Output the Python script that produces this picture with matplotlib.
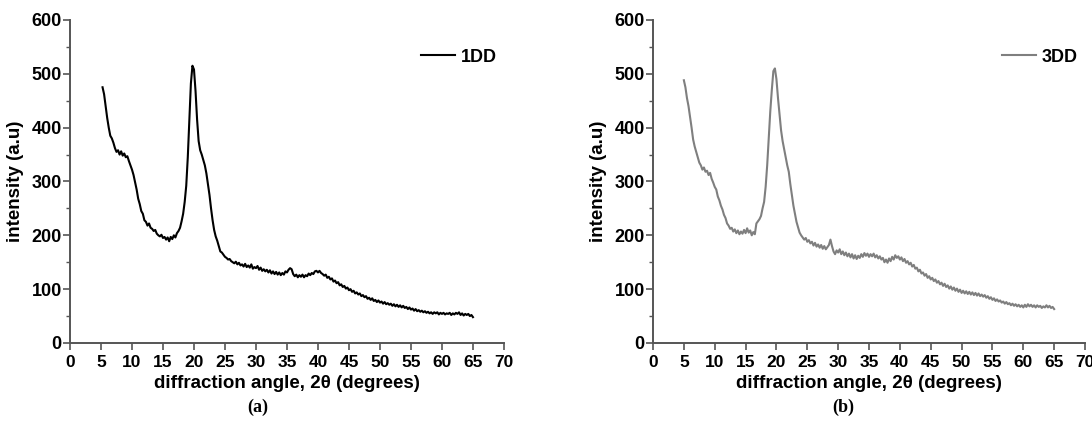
import numpy as np
import matplotlib

matplotlib.use("Agg")
import matplotlib.pyplot as plt
from matplotlib.ticker import MultipleLocator

plt.rcParams["font.family"] = ["Liberation Sans", "DejaVu Sans"]
plt.rcParams["font.weight"] = "bold"

# XRD scans, 0.25 degree steps
START_1DD = 5.25
INTENSITY_1DD = [
    475, 462, 440, 418, 400, 385, 380, 372, 362, 355, 358, 350, 356, 348, 352, 345, 347, 338, 330,
    322, 312, 298, 285, 268, 258, 245, 240, 228, 225, 218, 222, 214, 212, 208, 210, 203, 200, 198, 201,
    195, 197, 192, 196, 189, 197, 193, 200, 196, 204, 208, 214, 226, 240, 262, 292, 345, 415, 482, 515,
    508, 468, 415, 375, 358, 350, 340, 330, 315, 295, 275, 250, 228, 210, 198, 190, 180, 170, 168, 164,
    160, 158, 155, 156, 152, 150, 148, 151, 146, 149, 144, 146, 142, 147, 141, 144, 140, 146, 138, 141,
    139, 143, 136, 140, 134, 137, 133, 136, 131, 135, 129, 133, 128, 132, 127, 131, 126, 130, 127, 133,
    131, 136, 139, 137, 128, 124, 127, 122, 126, 123, 127, 122, 126, 124, 129, 126, 130, 128, 133, 134,
    131, 134, 130, 128, 125, 127, 121, 123, 118, 120, 114, 116, 111, 113, 107, 109, 104, 106, 101, 103,
    98, 100, 95, 97, 92, 94, 90, 92, 87, 89, 85, 87, 82, 84, 80, 83, 78, 80, 76, 79,
    75, 77, 73, 76, 72, 74, 71, 73, 69, 72, 68, 71, 67, 70, 66, 69, 65, 67, 63, 66,
    62, 64, 60, 63, 59, 61, 58, 60, 57, 59, 56, 58, 55, 57, 54, 57, 55, 57, 53, 56,
    54, 56, 53, 55, 54, 56, 52, 55, 53, 56, 54, 57, 52, 55, 51, 54, 52, 54, 50, 52,
    48,
]

START_3DD = 5.0
INTENSITY_3DD = [
    488, 475, 455, 440, 420, 400, 378, 365, 355, 345, 335, 330, 322, 326, 318, 320, 312, 316, 305, 298,
    290, 285, 272, 265, 255, 248, 238, 232, 222, 218, 212, 214, 207, 211, 204, 209, 202, 207, 203, 210,
    204, 213, 205, 209, 200, 206, 202, 222, 226, 230, 236, 250, 262, 290, 330, 380, 430, 470, 505, 510,
    490, 455, 425, 395, 375, 360, 345, 330, 318, 295, 275, 255, 240, 225, 215, 205, 200, 196, 192, 195,
    188, 191, 185, 188, 181, 186, 179, 183, 177, 182, 175, 180, 174, 178, 182, 192, 180, 170, 165, 172,
    168, 174, 165, 170, 163, 168, 161, 166, 159, 165, 157, 163, 156, 162, 158, 165, 160, 167, 162, 166,
    160, 165, 161, 166, 159, 163, 157, 161, 155, 158, 150, 155, 149, 157, 152, 160, 155, 163, 158, 161,
    155, 159, 152, 156, 149, 152, 146, 149, 142, 145, 138, 140, 133, 136, 129, 131, 125, 128, 121, 124,
    118, 121, 115, 118, 112, 115, 109, 112, 106, 110, 104, 107, 101, 105, 99, 103, 97, 101, 95, 99,
    93, 97, 92, 96, 91, 95, 90, 94, 89, 93, 88, 92, 87, 90, 86, 89, 84, 87, 82, 85,
    80, 83, 78, 81, 77, 79, 75, 77, 73, 76, 72, 74, 70, 73, 69, 72, 68, 71, 67, 70,
    66, 71, 67, 72, 68, 71, 67, 70, 66, 70, 67, 69, 65, 68, 66, 70, 66, 69, 65, 67,
    63,
]

STEP = 0.25
X_TICKS = [0, 5, 10, 15, 20, 25, 30, 35, 40, 45, 50, 55, 60, 65, 70]
Y_TICKS = [0, 100, 200, 300, 400, 500, 600]

PANELS = [
    ("1DD", START_1DD, INTENSITY_1DD, "#000000", "(a)"),
    ("3DD", START_3DD, INTENSITY_3DD, "#7f7f7f", "(b)"),
]

fig = plt.figure(figsize=(10.92, 4.25), dpi=100)
axes_rects = [
    [0.0641, 0.193, 0.3974, 0.760],
    [0.5980, 0.193, 0.3956, 0.760],
]
sub_label_x = [0.236, 0.772]

for rect, (name, start, values, color, tag), tag_x in zip(axes_rects, PANELS, sub_label_x):
    ax = fig.add_axes(rect)
    x = start + STEP * np.arange(len(values))
    ax.plot(x, values, color=color, linewidth=1.5, label=name)

    ax.set_xlim(0, 70)
    ax.set_ylim(0, 600)
    ax.set_xticks(X_TICKS)
    ax.set_yticks(Y_TICKS)
    ax.yaxis.set_minor_locator(MultipleLocator(50))
    for side in ("top", "right"):
        ax.spines[side].set_visible(False)
    for side in ("left", "bottom"):
        ax.spines[side].set_color("#555555")
        ax.spines[side].set_linewidth(1.4)
    ax.tick_params(axis="both", which="major", direction="out", length=5, width=1.2,
                   color="#555555")
    ax.tick_params(axis="x", which="major", labelsize=12.5, pad=4)
    ax.tick_params(axis="y", which="major", labelsize=13, pad=1)
    ax.tick_params(axis="y", which="minor", direction="out", length=3, width=1.0, color="#555555")
    for lab in ax.get_xticklabels() + ax.get_yticklabels():
        lab.set_fontweight("bold")

    ax.set_xlabel("diffraction angle, 2θ (degrees)", fontsize=13.5, fontweight="bold", labelpad=3)
    ax.set_ylabel("intensity (a.u)", fontsize=13.5, fontweight="bold", labelpad=5)

    leg = ax.legend(loc="center right", bbox_to_anchor=(1.0, 0.885), frameon=False,
                    handlelength=1.9, handletextpad=0.3, borderaxespad=0,
                    prop={"weight": "bold", "size": 13})

    fig.text(tag_x, 0.042, tag, ha="center", va="center", fontsize=13,
             fontweight="bold", family=["Liberation Serif", "DejaVu Serif"])

fig.savefig("out.png", dpi=100)
plt.close(fig)
